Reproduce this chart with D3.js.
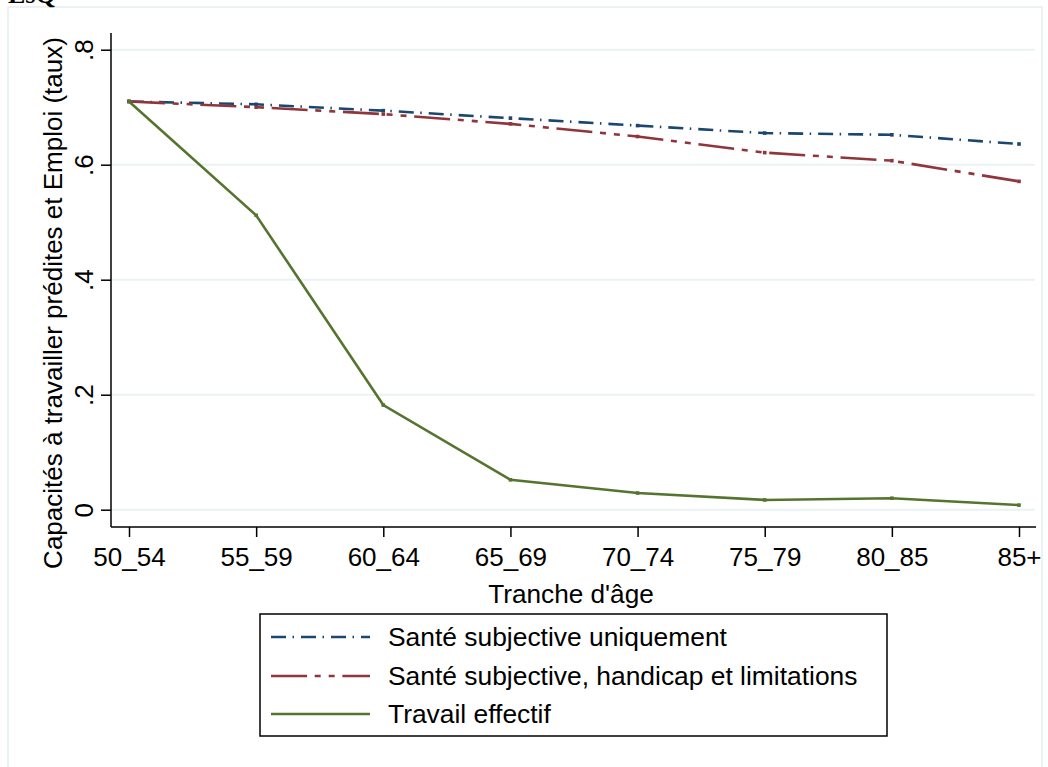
<!DOCTYPE html>
<html><head><meta charset="utf-8">
<script src="https://cdn.jsdelivr.net/npm/d3@7"></script>
<style>body{margin:0;background:#fff}svg{display:block}text{font-family:"Liberation Sans",Arial,sans-serif;fill:#000}</style>
</head><body>
<script>
const categories = ["50_54","55_59","60_64","65_69","70_74","75_79","80_85","85+"];
const santeSubjective = [0.710,0.705,0.694,0.681,0.668,0.655,0.652,0.636];
const santeHandicap   = [0.710,0.700,0.688,0.671,0.649,0.621,0.607,0.571];
const travailEffectif = [0.710,0.512,0.182,0.052,0.029,0.017,0.020,0.008];
const yTicks = [0,0.2,0.4,0.6,0.8];
const yTickLabels = ["0",".2",".4",".6",".8"];
const seriesNames = ["Santé subjective uniquement","Santé subjective, handicap et limitations","Travail effectif"];
const seriesColors = ["#1a476f","#90353b","#55752f"];
const seriesDash = ["15,6.5,1.5,7","36,7.7,6,8,6,7.7",null];

const W=1048,H=767;
const svg=d3.select("body").append("svg").attr("width",W).attr("height",H);
// outer frame
svg.append("rect").attr("x",8).attr("y",7).attr("width",1034).attr("height",780)
  .attr("fill","none").attr("stroke","#e6eeef").attr("stroke-width",1.5);
svg.append("text").attr("x",8).attr("y",3).attr("font-size",26).attr("font-weight","bold")
  .style("font-family","Liberation Serif,serif").text("EsQ");

const x=d3.scalePoint().domain(categories).range([129,1019]);
const y=d3.scaleLinear().domain([0,0.8]).range([509.7,49.7]);
const pL=111,pR=1036,pT=33,pB=527;

// gridlines
svg.append("g").selectAll("line").data(yTicks).join("line")
  .attr("x1",pL).attr("x2",pR-1).attr("y1",d=>y(d)).attr("y2",d=>y(d))
  .attr("stroke","#eaf2f3").attr("stroke-width",2);

// axes
const yAxis=d3.axisLeft(y).tickValues(yTicks).tickSize(10).tickFormat((d,i)=>yTickLabels[i]);
const gy=svg.append("g").attr("transform",`translate(${pL},0)`).call(yAxis);
gy.select(".domain").attr("d",`M0,${pT}V${pB}`).attr("stroke","#000").attr("stroke-width",1.5);
gy.selectAll(".tick line").attr("stroke","#000").attr("stroke-width",1.5);
gy.selectAll(".tick text").attr("font-size",26).attr("x",null).attr("dy",null)
  .attr("text-anchor","middle").attr("transform","translate(-18,0) rotate(-90)");

const xAxis=d3.axisBottom(x).tickSize(10);
const gx=svg.append("g").attr("transform",`translate(0,${pB})`).call(xAxis);
gx.select(".domain").attr("d",`M${pL},0H${pR}`).attr("stroke","#000").attr("stroke-width",1.5);
gx.selectAll(".tick line").attr("stroke","#000").attr("stroke-width",1.5);
gx.selectAll(".tick text").attr("font-size",26).attr("y",39).attr("dy",null);

// axis titles
svg.append("text").attr("transform","translate(62,303) rotate(-90)").attr("text-anchor","middle")
  .attr("font-size",26).text("Capacités à travailler prédites et Emploi (taux)");
svg.append("text").attr("x",571).attr("y",603).attr("text-anchor","middle")
  .attr("font-size",26.2).text("Tranche d'âge");

// lines
const allSeries=[santeSubjective,santeHandicap,travailEffectif];
const line=d3.line().x((d,i)=>x(categories[i])).y(d=>y(d));
[0,1,2].forEach(k=>{
  const g=svg.append("g");
  g.append("path").datum(allSeries[k]).attr("d",line).attr("fill","none")
    .attr("stroke",seriesColors[k]).attr("stroke-width",2.6)
    .attr("stroke-dasharray",seriesDash[k]);
  g.selectAll("rect").data(allSeries[k]).join("rect")
    .attr("x",(d,i)=>x(categories[i])-1.8).attr("y",d=>y(d)-1.8)
    .attr("width",3.6).attr("height",3.6).attr("fill",seriesColors[k]);
});

// legend
const lg=svg.append("g");
lg.append("rect").attr("x",260).attr("y",614).attr("width",627).attr("height",122)
  .attr("fill","#fff").attr("stroke","#000").attr("stroke-width",1.5);
const rowY=[637,676,714];
seriesNames.forEach((n,k)=>{
  lg.append("line").attr("x1",271).attr("x2",370).attr("y1",rowY[k]).attr("y2",rowY[k])
    .attr("stroke",seriesColors[k]).attr("stroke-width",2.6).attr("stroke-dasharray",seriesDash[k]);
  lg.append("text").attr("x",388).attr("y",rowY[k]+9).attr("font-size",26.4).text(n);
});
</script>
</body></html>
